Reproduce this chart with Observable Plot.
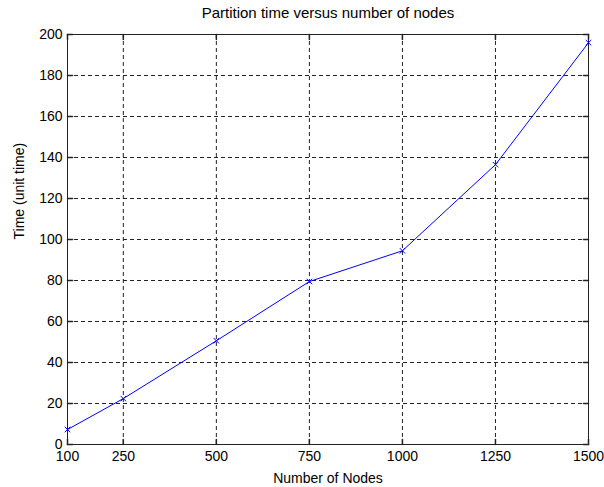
<!DOCTYPE html>
<html>
<head>
<meta charset="utf-8">
<script src="https://cdn.jsdelivr.net/npm/d3@7"></script>
<script src="https://cdn.jsdelivr.net/npm/@observablehq/plot@0.6"></script>
<style>
  html, body { margin: 0; padding: 0; background: #fff; }
  #chart svg { display: block; }
</style>
</head>
<body>
<div id="chart"></div>
<script>
const nodes = [100, 250, 500, 750, 1000, 1250, 1500];
const times = [7.3, 22.4, 50.6, 79.5, 94.5, 136.5, 196];
const xTicks = [100, 250, 500, 750, 1000, 1250, 1500];
const yTicks = [0, 20, 40, 60, 80, 100, 120, 140, 160, 180, 200];
const title = "Partition time versus number of nodes";
const xLabel = "Number of Nodes";
const yLabel = "Time (unit time)";

const data = nodes.map((n, i) => ({nodes: n, time: times[i]}));

const tickShape = {draw(context, l) { context.moveTo(0, 0); context.lineTo(0, -l); }};
const gridStyle = {stroke: "#222", strokeOpacity: 1, strokeDasharray: "4,3", strokeWidth: 1};

const chart = Plot.plot({
  width: 604,
  height: 487,
  marginLeft: 67,
  marginRight: 16,
  marginTop: 34,
  marginBottom: 43,
  style: {fontFamily: "'Liberation Sans', Arial, sans-serif", fontSize: "14px", color: "#000", background: "#fff"},
  x: {domain: [100, 1500], ticks: xTicks},
  y: {domain: [0, 200], ticks: yTicks},
  marks: [
    Plot.gridX(xTicks, gridStyle),
    Plot.gridY(yTicks, gridStyle),
    Plot.vector(xTicks, {x: d => d, frameAnchor: "bottom", length: 5, rotate: 0, anchor: "start", shape: tickShape, stroke: "#222"}),
    Plot.vector(xTicks, {x: d => d, frameAnchor: "top", length: 5, rotate: 180, anchor: "start", shape: tickShape, stroke: "#222"}),
    Plot.vector(yTicks, {y: d => d, frameAnchor: "left", length: 5, rotate: 90, anchor: "start", shape: tickShape, stroke: "#222"}),
    Plot.vector(yTicks, {y: d => d, frameAnchor: "right", length: 5, rotate: -90, anchor: "start", shape: tickShape, stroke: "#222"}),
    Plot.frame({stroke: "#222", strokeWidth: 1}),
    Plot.axisX(xTicks, {tickSize: 0, tickPadding: 7, label: null, fontSize: 14, tickFormat: d => String(d)}),
    Plot.axisY(yTicks, {tickSize: 0, tickPadding: 5, label: null, fontSize: 14, tickFormat: d => String(d)}),
    Plot.line(data, {x: "nodes", y: "time", stroke: "#0000ff", strokeWidth: 1}),
    Plot.dot(data, {x: "nodes", y: "time", symbol: "times", r: 2.6, stroke: "#0000ff", strokeWidth: 1}),
    Plot.text([title], {text: d => d, frameAnchor: "top", dy: -21, lineAnchor: "middle", fontSize: 15, fill: "#000"}),
    Plot.text([xLabel], {text: d => d, frameAnchor: "bottom", dy: 34, lineAnchor: "middle", fontSize: 14, fill: "#000"}),
    Plot.text([yLabel], {text: d => d, frameAnchor: "left", dx: -48, rotate: -90, lineAnchor: "middle", fontSize: 14, fill: "#000"})
  ]
});
document.getElementById("chart").appendChild(chart);
</script>
</body>
</html>
